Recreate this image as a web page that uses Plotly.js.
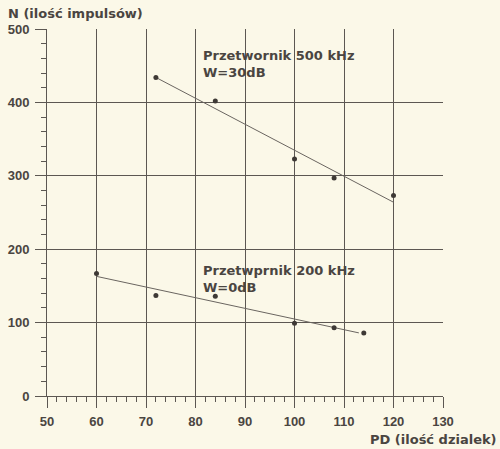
<!DOCTYPE html>
<html>
<head>
<meta charset="utf-8">
<script src="https://cdn.plot.ly/plotly-3.0.1.min.js"></script>
<style>
  html, body { margin: 0; padding: 0; background: #fbf8e8; }
  #chart { width: 500px; height: 449px; }
</style>
</head>
<body>
<div id="chart"></div>
<script>
// Measurements: transducer 500 kHz, gain 30 dB
const pd500 = [72, 84, 100, 108, 120];
const n500 = [434, 402, 323, 297, 273];
// fitted trend line for 500 kHz
const fit500X = [72, 120];
const fit500Y = [434, 264];

// Measurements: transducer 200 kHz, gain 0 dB
const pd200 = [60, 72, 84, 100, 108, 114];
const n200 = [167, 137, 136, 99, 93, 86];
// fitted trend line for 200 kHz
const fit200X = [60, 113];
const fit200Y = [163, 86];

const label500 = 'Przetwornik 500 kHz<br>W=30dB';
const label200 = 'Przetwprnik 200 kHz<br>W=0dB';
const xTitle = 'PD (ilość dzialek)';
const yTitle = 'N (ilość impulsów)';

const ink = '#4a4541';
const gridInk = '#5c5752';
const font = { family: 'Liberation Sans, Arial, sans-serif', size: 13, color: ink, weight: 'bold' };
const wideFont = { family: 'DejaVu Sans, sans-serif', size: 13, color: ink, weight: 'bold' };

const traces = [
  { x: fit500X, y: fit500Y, mode: 'lines', line: { color: '#6a6560', width: 1 }, hoverinfo: 'skip' },
  { x: pd500, y: n500, mode: 'markers', marker: { color: '#3e3935', size: 5 } },
  { x: fit200X, y: fit200Y, mode: 'lines', line: { color: '#6a6560', width: 1 }, hoverinfo: 'skip' },
  { x: pd200, y: n200, mode: 'markers', marker: { color: '#3e3935', size: 5 } }
];

const layout = {
  width: 500,
  height: 449,
  margin: { l: 47, r: 57, t: 29, b: 53 },
  paper_bgcolor: '#fbf8e8',
  plot_bgcolor: '#fbf8e8',
  showlegend: false,
  font: font,
  xaxis: {
    range: [50, 130],
    dtick: 10,
    tick0: 50,
    showgrid: true,
    gridcolor: gridInk,
    gridwidth: 1,
    zeroline: false,
    showline: true,
    linecolor: gridInk,
    linewidth: 1,
    ticks: 'outside',
    ticklen: 11,
    tickcolor: gridInk,
    tickfont: font,
    ticklabelstandoff: 2,
    minor: { dtick: 2, ticks: 'outside', ticklen: 5, tickcolor: gridInk, showgrid: false },
    fixedrange: true
  },
  yaxis: {
    range: [0, 500],
    dtick: 100,
    tick0: 0,
    showgrid: true,
    gridcolor: gridInk,
    gridwidth: 1,
    zeroline: false,
    showline: true,
    linecolor: gridInk,
    linewidth: 1,
    ticks: 'outside',
    ticklen: 11,
    tickcolor: gridInk,
    tickfont: font,
    ticklabelstandoff: 3,
    minor: { dtick: 20, ticks: 'outside', ticklen: 5, tickcolor: gridInk, showgrid: false },
    fixedrange: true
  },
  annotations: [
    { x: 81.1, y: 452, xref: 'x', yref: 'y', text: label500, showarrow: false,
      xanchor: 'left', yanchor: 'middle', align: 'left', font: wideFont },
    { x: 81.1, y: 159, xref: 'x', yref: 'y', text: label200, showarrow: false,
      xanchor: 'left', yanchor: 'middle', align: 'left', font: wideFont },
    { x: 6, y: 14, xref: 'paper', yref: 'paper', text: yTitle, showarrow: false,
      xanchor: 'left', yanchor: 'middle', font: wideFont },
    { x: 499, y: 439, xref: 'paper', yref: 'paper', text: xTitle, showarrow: false,
      xanchor: 'right', yanchor: 'middle', font: wideFont }
  ]
};

// pixel-positioned axis titles: convert page pixels into paper fractions
const plotW = layout.width - layout.margin.l - layout.margin.r;
const plotH = layout.height - layout.margin.t - layout.margin.b;
[layout.annotations[2], layout.annotations[3]].forEach(a => {
  a.x = (a.x - layout.margin.l) / plotW;
  a.y = (layout.height - layout.margin.b - a.y) / plotH;
});

Plotly.newPlot('chart', traces, layout, { staticPlot: true, displayModeBar: false });
</script>
</body>
</html>
